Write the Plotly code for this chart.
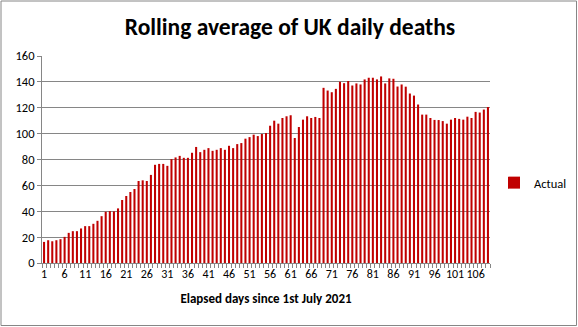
import plotly.graph_objects as go

# Rolling average of UK daily deaths, day 1 = 1st July 2021
days = list(range(1, 110))
deaths = [
    16.3, 17.6, 16.8, 17.6, 18.4, 20.2, 23.3, 24.6, 24.6, 26.7,
    28.5, 28.5, 30.3, 32.6, 36.2, 39.6, 40.1, 39.9, 42.2, 48.7,
    51.8, 54.9, 57.2, 63.4, 63.9, 63.4, 68.1, 75.9, 76.6, 76.6,
    75.1, 80.3, 81.6, 82.8, 81.3, 81.3, 85.2, 89.7, 85.7, 87.5,
    88.8, 86.7, 87.5, 88.8, 87.5, 90.6, 88.8, 91.9, 92.7, 96.1,
    97.3, 99.2, 98.1, 99.7, 100.5, 106.1, 110.0, 107.7, 112.1, 113.4,
    114.2, 96.6, 105.1, 110.8, 113.4, 112.1, 112.9, 112.1, 135.4, 133.3,
    132.0, 134.6, 140.1, 139.0, 140.7, 137.2, 138.8, 138.0, 141.9, 143.2,
    143.2, 141.9, 144.2, 138.8, 142.7, 142.4, 136.4, 138.0, 136.3, 131.0,
    129.4, 122.5, 114.7, 114.7, 112.1, 110.6, 110.5, 109.7, 107.7, 110.8,
    112.1, 111.4, 110.8, 113.1, 112.1, 116.8, 116.3, 118.6, 120.6,
]
x_tick_vals = list(range(1, 110, 5))
x_tick_text = [str(v) for v in x_tick_vals]
y_tick_vals = list(range(0, 161, 20))

FONT = "Carlito, Lato, sans-serif"
GREY = "#868686"

# plot-area pixel geometry
W, H = 578, 327
L, R, T, B = 42, 490, 56, 263


def px_x(p):
    return (p - L) / (R - L)


def px_y(p):
    return (B - p) / (B - T)


fig = go.Figure(
    go.Bar(
        x=days,
        y=deaths,
        name="Actual",
        marker=dict(color="#C00000", line=dict(width=0)),
    )
)

fig.update_layout(
    width=W,
    height=H,
    margin=dict(l=L, r=W - R, t=T, b=H - B, autoexpand=False),
    paper_bgcolor="white",
    plot_bgcolor="white",
    bargap=0.5,
    font=dict(family=FONT, size=12, color="black"),
    title=dict(
        text="Rolling average of UK daily deaths",
        font=dict(family=FONT, size=23.5, color="black", weight="bold"),
        xref="container",
        x=290 / W,
        xanchor="center",
        yref="container",
        y=1 - 27 / H,
        yanchor="middle",
    ),
    showlegend=True,
    legend=dict(
        xref="container",
        yref="container",
        x=494 / W,
        y=1 - 183 / H,
        xanchor="left",
        yanchor="middle",
        itemwidth=30,
        font=dict(family=FONT, size=12.5, color="black"),
        bgcolor="rgba(0,0,0,0)",
    ),
    xaxis=dict(
        range=[0.5, 109.5],
        tickmode="array",
        tickvals=x_tick_vals,
        ticktext=x_tick_text,
        tickangle=0,
        ticks="",
        automargin=False,
        showline=True,
        linecolor=GREY,
        linewidth=1,
        showgrid=False,
        zeroline=False,
        tickfont=dict(family=FONT, size=12, color="black"),
        minor=dict(
            tickmode="linear",
            tick0=0.5,
            dtick=1,
            ticks="outside",
            ticklen=4,
            tickcolor=GREY,
            showgrid=False,
        ),
        title=dict(
            text="Elapsed days since 1st July 2021",
            font=dict(family=FONT, size=13, color="black", weight="bold"),
            standoff=13,
        ),
    ),
    yaxis=dict(
        range=[0, 160],
        tickmode="array",
        tickvals=y_tick_vals,
        automargin=False,
        showgrid=True,
        gridcolor=GREY,
        gridwidth=1,
        showline=True,
        linecolor=GREY,
        linewidth=1,
        ticks="outside",
        ticklen=4,
        tickcolor=GREY,
        zeroline=False,
        tickfont=dict(family=FONT, size=12.5, color="black"),
    ),
    shapes=[
        dict(
            type="rect",
            xref="paper",
            yref="paper",
            x0=px_x(1),
            x1=px_x(576.5),
            y0=px_y(325.5),
            y1=px_y(1),
            line=dict(color=GREY, width=1),
            fillcolor="rgba(0,0,0,0)",
            layer="below",
        )
    ],
)

fig.write_html("out.html")
